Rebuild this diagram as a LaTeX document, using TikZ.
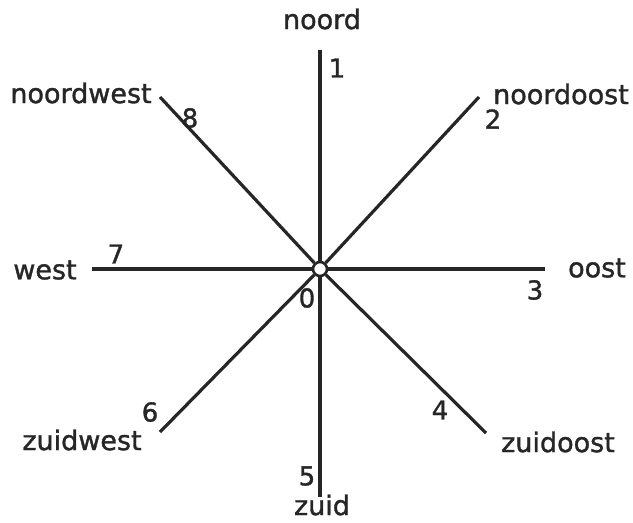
\documentclass[tikz,border=0pt]{standalone}
\usepackage{fontspec}
\setmainfont{DejaVu Sans}
\newfontfamily\lblfont{DejaVu Sans}[FakeBold=1.3]
\begin{document}
\begin{tikzpicture}[x=1pt,y=-1pt,
  ray/.style={line width=3.2pt, draw=black!85},
  lbl/.style={inner sep=0pt, font=\lblfont\fontsize{27}{30}\selectfont, text=black!85},
  num/.style={inner sep=0pt, font=\lblfont\fontsize{26}{30}\selectfont, text=black!85}]
\useasboundingbox (0,0) rectangle (633,523);
\coordinate (n) at (320,50);
\coordinate (ne) at (479,97);
\coordinate (e) at (545,269);
\coordinate (se) at (486,433);
\coordinate (s) at (320,497);
\coordinate (sw) at (160,432);
\coordinate (w) at (92,269);
\coordinate (nw) at (160,97);
\node[circle, draw=black!85, line width=2.6pt, fill=white, minimum size=14pt, inner sep=0pt] (c) at (320,269) {};
\foreach \p in {n,ne,e,se,s,sw,w,nw} \draw[ray] (c) -- (\p);
\node[lbl] (tn) at (322,19) {noord};
\node[lbl] (tne) at (561,94) {noordoost};
\node[lbl] (te) at (597,268) {oost};
\node[lbl] (tse) at (558,442) {zuidoost};
\node[lbl] (ts) at (322,505) {zuid};
\node[lbl] (tsw) at (82,440) {zuidwest};
\node[lbl] (tw) at (45,270) {west};
\node[lbl] (tnw) at (81,93) {noordwest};
\node[num] (n1) at (337,68) {1};
\node[num] (n2) at (493,119) {2};
\node[num] (n3) at (535,290) {3};
\node[num] (n4) at (440,410) {4};
\node[num] (n5) at (307,476) {5};
\node[num] (n6) at (150,412) {6};
\node[num] (n7) at (116,254) {7};
\node[num] (n8) at (190,118) {8};
\node[num] (n0) at (307,298) {0};
\end{tikzpicture}
\end{document}
